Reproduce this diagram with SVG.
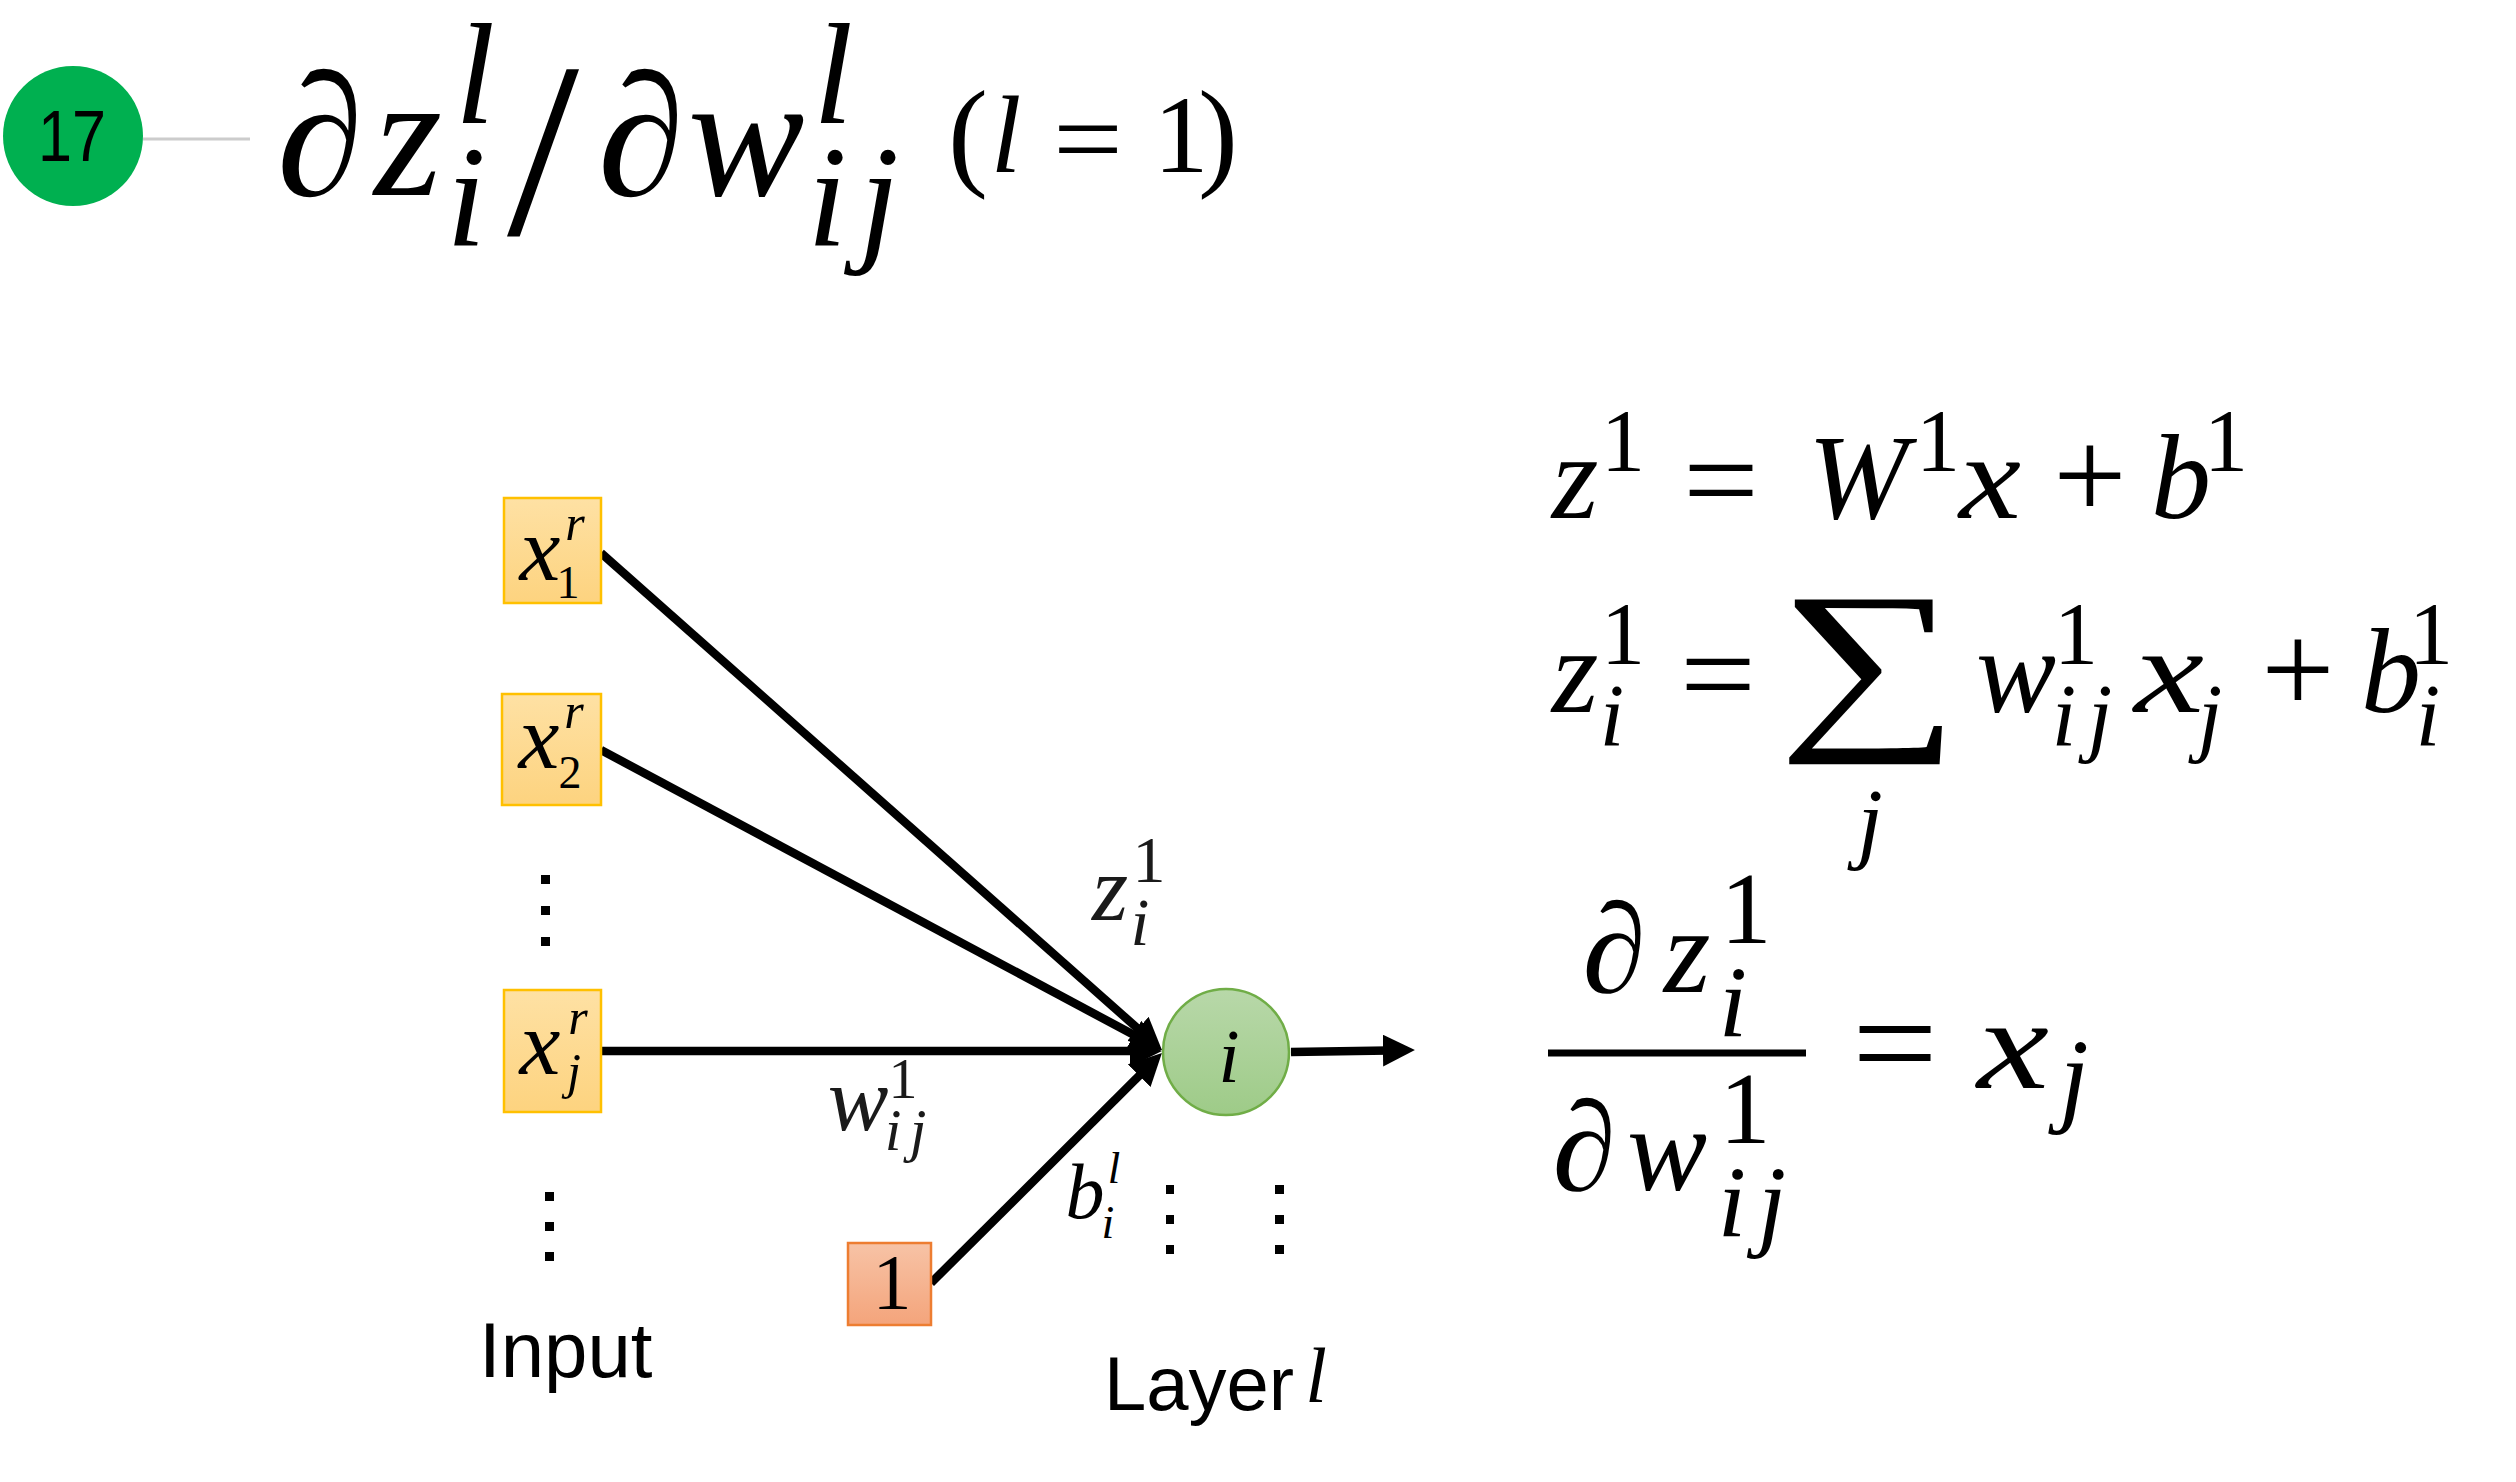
<svg xmlns="http://www.w3.org/2000/svg" width="2516" height="1482" viewBox="0 0 2516 1482">
<defs>
<style>
.m{font-family:"Liberation Serif","DejaVu Serif",serif;font-style:italic;fill:#000;text-anchor:middle}
.u{font-family:"Liberation Serif","DejaVu Serif",serif;font-style:normal;fill:#000;text-anchor:middle}
.lab{fill:#1a1a1a}
.sans{font-family:"Liberation Sans",Arial,sans-serif;fill:#000}
.edge{stroke:#000;stroke-width:8.5;fill:none;marker-end:url(#arr)}
.dot{fill:#000}
.inbox{fill:url(#gYel);stroke:#ffc000;stroke-width:2.5}
</style>
<linearGradient id="gYel" x1="0" y1="0" x2="0" y2="1"><stop offset="0" stop-color="#fee1a4"/><stop offset="1" stop-color="#fdd37f"/></linearGradient>
<linearGradient id="gOr" x1="0" y1="0" x2="0" y2="1"><stop offset="0" stop-color="#f7c3a6"/><stop offset="1" stop-color="#f4a47b"/></linearGradient>
<linearGradient id="gGr" x1="0" y1="0" x2="0" y2="1"><stop offset="0" stop-color="#b8d8a9"/><stop offset="1" stop-color="#9ecb88"/></linearGradient>
<marker id="arr" viewBox="0 0 10 10" refX="6.9" refY="5" markerWidth="32" markerHeight="32" markerUnits="userSpaceOnUse" orient="auto"><path d="M0,0 L10,5 L0,10 z" fill="#000"/></marker>
</defs>
<rect width="2516" height="1482" fill="#fff"/>

<!-- title -->
<g id="badge">
<line x1="143" y1="139" x2="250" y2="139" stroke="#cccccc" stroke-width="3"/>
<circle cx="73" cy="136" r="70" fill="#00b050"/>
<text class="sans" x="72" y="161" font-size="72" text-anchor="middle" textLength="68" lengthAdjust="spacingAndGlyphs">17</text>
</g>
<g id="title">
<text class="m" x="320" y="195" font-size="175">∂</text>
<text class="m" x="408" y="195" font-size="175">z</text>
<text class="m" x="475" y="123" font-size="143">l</text>
<text class="m" x="466" y="245" font-size="143">i</text>
<text class="u" x="543" y="234" font-size="250" textLength="72" lengthAdjust="spacingAndGlyphs">/</text>
<text class="m" x="641" y="195" font-size="175">∂</text>
<text class="m" x="746" y="195" font-size="175">w</text>
<text class="m" x="833" y="123" font-size="143">l</text>
<text class="m" x="827" y="245" font-size="143">i</text>
<text class="m" x="879" y="245" font-size="143">j</text>
<text class="u" x="968" y="174" font-size="120">(</text>
<text class="m" x="1006" y="172" font-size="110">l</text>
<text class="u" x="1088" y="176" font-size="110" textLength="70" lengthAdjust="spacingAndGlyphs">=</text>
<text class="u" x="1181" y="172" font-size="110">1</text>
<text class="u" x="1218" y="174" font-size="120">)</text>
</g>

<!-- connectors -->
<g id="connectors">
<line class="edge" x1="601" y1="553" x2="1154.5" y2="1043.4"/>
<line class="edge" x1="601" y1="750" x2="1153.2" y2="1045.3"/>
<line class="edge" x1="601" y1="1051" x2="1152" y2="1051"/>
<line class="edge" x1="931" y1="1283" x2="1154.9" y2="1060.1"/>
<line class="edge" x1="1291" y1="1052" x2="1405" y2="1050.2"/>
</g>

<!-- nodes -->
<g id="x1">
<rect class="inbox" x="504" y="498" width="97" height="105"/>
<text class="m" x="540" y="580" font-size="92">x</text>
<text class="m" x="575" y="540" font-size="50">r</text>
<text class="u" x="568" y="598" font-size="46">1</text>
</g>
<g id="x2">
<rect class="inbox" x="502" y="694" width="99" height="111"/>
<text class="m" x="539" y="768" font-size="92">x</text>
<text class="m" x="574" y="728" font-size="50">r</text>
<text class="u" x="570" y="788" font-size="46">2</text>
</g>
<g id="xj">
<rect class="inbox" x="504" y="990" width="97" height="122"/>
<text class="m" x="540" y="1074" font-size="92">x</text>
<text class="m" x="578" y="1034" font-size="50">r</text>
<text class="m" x="574" y="1088" font-size="50">j</text>
</g>
<g id="bias">
<rect x="848" y="1243" width="83" height="82" fill="url(#gOr)" stroke="#ed7d31" stroke-width="2.5"/>
<text class="u" x="892" y="1308" font-size="78">1</text>
</g>
<g id="node-i">
<circle cx="1226" cy="1052" r="63" fill="url(#gGr)" stroke="#70ad47" stroke-width="2.5"/>
<text class="m" x="1229" y="1082" font-size="76">i</text>
</g>

<!-- ellipses -->
<g id="dots">
<rect class="dot" x="541" y="875" width="9" height="9"/>
<rect class="dot" x="541" y="906" width="9" height="9"/>
<rect class="dot" x="541" y="937" width="9" height="9"/>
<rect class="dot" x="545" y="1192" width="9" height="9"/>
<rect class="dot" x="545" y="1222" width="9" height="9"/>
<rect class="dot" x="545" y="1252" width="9" height="9"/>
<rect class="dot" x="1166" y="1185" width="8" height="9"/>
<rect class="dot" x="1166" y="1215" width="8" height="9"/>
<rect class="dot" x="1166" y="1245" width="8" height="9"/>
<rect class="dot" x="1275" y="1185" width="9" height="9"/>
<rect class="dot" x="1275" y="1215" width="9" height="9"/>
<rect class="dot" x="1275" y="1245" width="9" height="9"/>
</g>

<!-- edge labels -->
<g id="labels">
<text class="m lab" x="1110" y="920" font-size="93">z</text>
<text class="u lab" x="1149" y="882" font-size="66">1</text>
<text class="m lab" x="1140" y="945" font-size="68">i</text>
<text class="m lab" x="858" y="1130" font-size="91">w</text>
<text class="u lab" x="903" y="1098" font-size="58">1</text>
<text class="m lab" x="893" y="1150" font-size="60">i</text>
<text class="m lab" x="918" y="1150" font-size="60">j</text>
<text class="m" x="1085" y="1218" font-size="78">b</text>
<text class="m" x="1114" y="1183" font-size="45">l</text>
<text class="m" x="1108" y="1238" font-size="46">i</text>
<text class="sans" x="479" y="1377" font-size="78">Input</text>
<text class="sans" x="1104" y="1410" font-size="76">Layer</text>
<text class="m" x="1316" y="1402" font-size="78">l</text>
</g>

<!-- equations -->
<g id="eq1">
<text class="m" x="1575" y="518" font-size="120">z</text>
<text class="u" x="1623" y="470" font-size="88">1</text>
<text class="u" x="1721" y="522" font-size="125" textLength="76" lengthAdjust="spacingAndGlyphs">=</text>
<text class="m" x="1858" y="518" font-size="120">W</text>
<text class="u" x="1938" y="470" font-size="88">1</text>
<text class="m" x="1990" y="518" font-size="120" textLength="62" lengthAdjust="spacingAndGlyphs">x</text>
<text class="u" x="2090" y="519" font-size="130">+</text>
<text class="m" x="2181" y="518" font-size="120">b</text>
<text class="u" x="2226" y="470" font-size="88">1</text>
</g>
<g id="eq2">
<text class="m" x="1575" y="712" font-size="120">z</text>
<text class="u" x="1623" y="663" font-size="88">1</text>
<text class="m" x="1612" y="745" font-size="88">i</text>
<text class="u" x="1718" y="716" font-size="125" textLength="76" lengthAdjust="spacingAndGlyphs">=</text>
<text class="u" x="1869" y="724" font-size="190" textLength="182" lengthAdjust="spacingAndGlyphs">∑</text>
<text class="m" x="1870" y="852" font-size="92">j</text>
<text class="m" x="2016" y="712" font-size="120">w</text>
<text class="u" x="2076" y="663" font-size="88">1</text>
<text class="m" x="2064" y="745" font-size="88">i</text>
<text class="m" x="2100" y="745" font-size="88">j</text>
<text class="m" x="2169" y="712" font-size="120" textLength="70" lengthAdjust="spacingAndGlyphs">x</text>
<text class="m" x="2210" y="745" font-size="88">j</text>
<text class="u" x="2298" y="713" font-size="130">+</text>
<text class="m" x="2391" y="712" font-size="120">b</text>
<text class="u" x="2431" y="663" font-size="88">1</text>
<text class="m" x="2428" y="745" font-size="88">i</text>
</g>
<g id="eq3">
<text class="m" x="1614" y="992" font-size="128">∂</text>
<text class="m" x="1687" y="992" font-size="120">z</text>
<text class="u" x="1746" y="943" font-size="102">1</text>
<text class="m" x="1733" y="1037" font-size="102">i</text>
<line x1="1548" y1="1053" x2="1806" y2="1053" stroke="#000" stroke-width="7"/>
<text class="m" x="1584" y="1190" font-size="128">∂</text>
<text class="m" x="1667" y="1190" font-size="120">w</text>
<text class="u" x="1745" y="1143" font-size="102">1</text>
<text class="m" x="1732" y="1237" font-size="102">i</text>
<text class="m" x="1772" y="1237" font-size="102">j</text>
<text class="u" x="1895" y="1090" font-size="140" textLength="86" lengthAdjust="spacingAndGlyphs">=</text>
<text class="m" x="2013" y="1088" font-size="130" textLength="72" lengthAdjust="spacingAndGlyphs">x</text>
<text class="m" x="2074" y="1112" font-size="105">j</text>
</g>
</svg>
